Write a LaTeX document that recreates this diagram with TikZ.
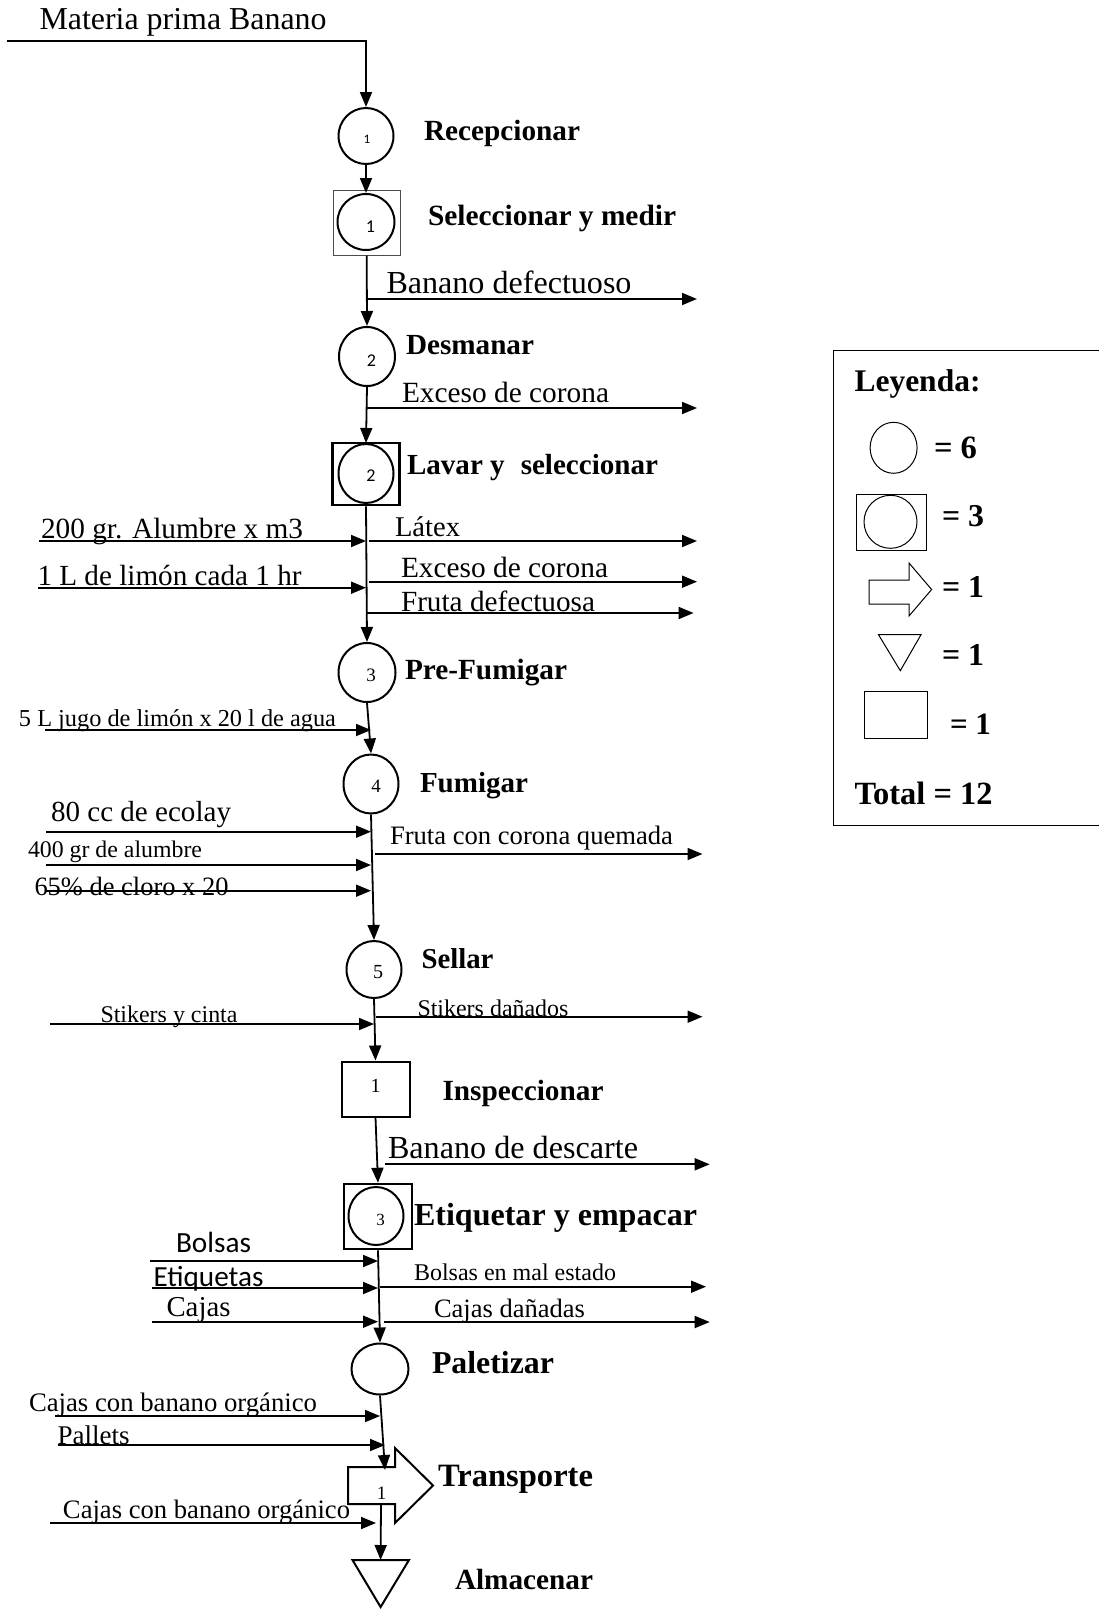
\documentclass[tikz,border=0pt]{standalone}
\usepackage{fontspec}
\usepackage{graphicx}
\setmainfont{Liberation Serif}
\newfontfamily\calibrisub{Carlito}
\usetikzlibrary{arrows.meta,shapes.geometric}
% set a piece of text to a given width (in pt), keeping its proportions
\newcommand{\fitw}[2]{\resizebox{#1pt}{!}{#2}}

\begin{document}
\begin{tikzpicture}[x=1pt,y=-1pt,
  flow/.style={line width=1.8pt,-{Triangle[length=15pt,width=12pt]}},
  op/.style={draw,ellipse,line width=2pt,inner sep=0pt},
  box/.style={draw,rectangle,inner sep=0pt},
  lbl/.style={anchor=base west,inner sep=0pt,outer sep=0pt},
  sansnum/.style={inner sep=0pt,font=\calibrisub\fontsize{18}{18}\selectfont},
  serifnum/.style={inner sep=0pt,font=\fontsize{19}{19}\selectfont},
  leg/.style={line width=1pt}]
\useasboundingbox (0,0) rectangle (1098,1611);

% ---------- process symbols ----------
\node[op,minimum width=55pt,minimum height=56pt] (c1) at (366,136) {};
\node[sansnum,font=\calibrisub\fontsize{13}{13}\selectfont] (n1) at (367,139.5) {1};

\node[box,draw=black!70,line width=1pt,minimum width=67pt,minimum height=65pt] (b1) at (366.7,222.5) {};
\node[op,minimum width=57pt,minimum height=56pt] (b1c) at (366,222) {};
\node[sansnum] (n2) at (370.4,227) {1};

\node[op,minimum width=56pt,minimum height=59pt] (c2) at (367,356.5) {};
\node[sansnum] (n3) at (371.5,361) {2};

\node[box,line width=2.5pt,minimum width=67pt,minimum height=62pt] (b2) at (366,474) {};
\node[op,minimum width=55pt,minimum height=59pt] (b2c) at (366,473.5) {};
\node[sansnum] (n4) at (371,476) {2};

\node[op,minimum width=57pt,minimum height=59pt] (c3) at (367,672.5) {};
\node[serifnum] (n5) at (371,675) {3};

\node[op,minimum width=55pt,minimum height=59pt] (c4) at (371,784) {};
\node[serifnum] (n6) at (376,786) {4};

\node[op,minimum width=55pt,minimum height=57pt] (c5) at (374,969.5) {};
\node[serifnum,font=\fontsize{20}{20}\selectfont] (n7) at (378,972) {5};

\node[box,line width=2pt,minimum width=68pt,minimum height=55pt] (b3) at (375.5,1089) {};
\node[serifnum,font=\fontsize{20}{20}\selectfont] (n8) at (375.6,1086) {1};

\node[box,line width=2.5pt,minimum width=68pt,minimum height=65pt] (b4) at (378,1216.5) {};
\node[op,minimum width=55pt,minimum height=58pt] (b4c) at (376,1216) {};
\node[serifnum,font=\fontsize{17}{17}\selectfont] (n9) at (380.6,1220) {3};

\node[op,minimum width=57pt,minimum height=51pt] (c6) at (380,1369) {};

% transport arrow and storage triangle
\draw[line width=2pt,line join=miter] (348,1467) -- (395,1467) -- (395,1448) -- (433,1485.5)
  -- (395,1523) -- (395,1504) -- (348,1504) -- cycle;
\coordinate (trtop) at (385,1470);
\coordinate (trbot) at (381,1504);
\node[serifnum] (n10) at (381.6,1493) {1};

\draw[line width=2pt,line join=miter] (352.5,1560) -- (409,1560) -- (380.6,1607) -- cycle;
\coordinate (almtop) at (380.6,1560);

% ---------- main flow ----------
\coordinate (mp) at (7,40.7);
\draw[flow] (mp) -- (mp -| c1.north) -- (c1.north);
\draw[flow] (c1.south) -- (b1c.north);
\draw[flow] (b1.south) -- (c2.north);
\draw[flow] (c2.south) -- (b2c.north);
\draw[flow] (b2.south) -- (c3.north);
\draw[flow] (c3.south) -- (c4.north);
\draw[flow] (c4.south) -- (c5.north);
\draw[flow] (c5.south) -- (b3.north);
\draw[flow] (b3.south) -- (b4.north);
\draw[flow] (b4.south) -- (c6.north);
\draw[flow] (c6.south) -- (trtop);
\draw[flow] (trbot) -- (almtop);

% ---------- inputs ----------
\coordinate (i1) at (39,541);
\coordinate (i2) at (37.8,587.7);
\coordinate (i3) at (45,730);
\coordinate (i4) at (46,831.7);
\coordinate (i5) at (46,865);
\coordinate (i6) at (46,890.7);
\coordinate (i7) at (49.6,1024);
\coordinate (i8) at (149.8,1261);
\coordinate (i9) at (152,1288);
\coordinate (i10) at (152,1321.7);
\coordinate (i11) at (55.3,1416);
\coordinate (i12) at (57.6,1445);
\coordinate (i13) at (49.8,1523);
\draw[flow] (i1) -- (i1 -| b2.south);
\draw[flow] (i2) -- (i2 -| b2.south);
\draw[flow] (i3) -- (i3 -| c4.north);
\draw[flow] (i4) -- (i4 -| c4.south);
\draw[flow] (i5) -- (i5 -| c4.south);
\draw[flow] (i6) -- (i6 -| c4.south);
\draw[flow] (i7) -- (i7 -| c5.south);
\draw[flow] (i8) -- (i8 -| b4.south);
\draw[flow] (i9) -- (i9 -| b4.south);
\draw[flow] (i10) -- (i10 -| b4.south);
\draw[flow] (i11) -- (i11 -| c6.south);
\draw[flow] (i12) -- (i12 -| trtop);
\draw[flow] (i13) -- (i13 -| b4c.south);

% ---------- outputs ----------
\coordinate (o1) at (697,299);
\coordinate (o2) at (697,408);
\coordinate (o3) at (697,541);
\coordinate (o4) at (697,581.7);
\coordinate (o5) at (693.6,613);
\coordinate (o6) at (702.5,854);
\coordinate (o7) at (702.5,1016.7);
\coordinate (o8) at (709.7,1164.3);
\coordinate (o9) at (706,1286.7);
\coordinate (o10) at (709.7,1322);
\draw[flow] (o1 -| b1.south) -- (o1);
\draw[flow] (o2 -| c2.south) -- (o2);
\draw[flow] ([xshift=3pt]o3 -| b2.south) -- (o3);
\draw[flow] ([xshift=3pt]o4 -| b2.south) -- (o4);
\draw[flow] (o5 -| b2.south) -- (o5);
\draw[flow] ([xshift=4pt]o6 -| c4.south) -- (o6);
\draw[flow] ([xshift=2pt]o7 -| c5.south) -- (o7);
\draw[flow] ([xshift=9pt]o8 -| b3.south) -- (o8);
\draw[flow] ([xshift=2pt]o9 -| b4.south) -- (o9);
\draw[flow] ([xshift=6pt]o10 -| b4.south) -- (o10);

% ---------- texts ----------
\node[lbl] (t1) at (39.5,30) {\fitw{287}{Materia prima Banano}};
\node[lbl] (t2) at (424,140) {\fitw{156}{\bfseries Recepcionar}};
\node[lbl] (t3) at (428,225) {\fitw{248}{\bfseries Seleccionar y medir}};
\node[lbl] (t4) at (386.5,293) {\fitw{245}{Banano defectuoso}};
\node[lbl] (t5) at (406,354) {\fitw{128}{\bfseries Desmanar}};
\node[lbl] (t6) at (402,402) {\fitw{207}{Exceso de corona}};
\node[lbl] (t7) at (407,474) {\fitw{251}{\bfseries Lavar y\hspace{0.55em}seleccionar}};
\node[lbl] (t8) at (41,538) {\fitw{262}{200 gr. Alumbre x m3}};
\node[lbl] (t9) at (395,536.5) {\fitw{65}{Látex}};
\node[lbl] (t10) at (37.5,585) {\fitw{264}{1 L de limón cada 1 hr}};
\node[lbl] (t11) at (401,577) {\fitw{207}{Exceso de corona}};
\node[lbl] (t12) at (401,611) {\fitw{194}{Fruta defectuosa}};
\node[lbl] (t13) at (405,679) {\fitw{162}{\bfseries Pre-Fumigar}};
\node[lbl] (t14) at (19,726) {\fitw{317}{5 L jugo de limón x 20 l de agua}};
\node[lbl] (t15) at (420,792.5) {\fitw{108}{\bfseries Fumigar}};
\node[lbl] (t16) at (51,821.5) {\fitw{180}{80 cc de ecolay}};
\node[lbl] (t17) at (28,857) {\fitw{174}{400 gr de alumbre}};
\node[lbl] (t18) at (34.5,895) {\fitw{194}{65\% de cloro x 20}};
\node[lbl] (t19) at (390,844) {\fitw{283}{Fruta con corona quemada}};
\node[lbl] (t20) at (421.5,968) {\fitw{72}{\bfseries Sellar}};
\node[lbl] (t21) at (100.5,1022.5) {\fitw{137}{Stikers y cinta}};
\node[lbl] (t22) at (417.5,1016) {\fitw{151}{Stikers dañados}};
\node[lbl] (t23) at (442.5,1100) {\fitw{161}{\bfseries Inspeccionar}};
\node[lbl] (t24) at (388,1158) {\fitw{250}{Banano de descarte}};
\node[lbl] (t25) at (414,1225) {\fitw{283}{\bfseries Etiquetar y empacar}};
\node[lbl] (t26) at (176,1252) {\fitw{75}{\calibrisub Bolsas}};
\node[lbl] (t27) at (153.5,1286.5) {\fitw{110}{\calibrisub Etiquetas}};
\node[lbl] (t28) at (166.5,1316) {\fitw{64}{Cajas}};
\node[lbl] (t29) at (414,1280.5) {\fitw{202}{Bolsas en mal estado}};
\node[lbl] (t30) at (434,1317.5) {\fitw{151}{Cajas dañadas}};
\node[lbl] (t31) at (432,1373) {\fitw{122}{\bfseries Paletizar}};
\node[lbl] (t32) at (29,1411) {\fitw{288}{Cajas con banano orgánico}};
\node[lbl] (t33) at (57.5,1444) {\fitw{72}{Pallets}};
\node[lbl] (t34) at (438,1486.5) {\fitw{155}{\bfseries Transporte}};
\node[lbl] (t35) at (63,1518) {\fitw{287}{Cajas con banano orgánico}};
\node[lbl] (t36) at (455,1589) {\fitw{138}{\bfseries Almacenar}};

% ---------- legend ----------
\draw[leg] (1100,350) -- (833,350) -- (833,825) -- (1100,825);
\node[lbl] (l1) at (854.5,391) {\fitw{126}{\bfseries Leyenda:}};
\node[draw,ellipse,leg,inner sep=0pt,minimum width=47pt,minimum height=51pt] (lc) at (893.6,447.8) {};
\node[lbl] (l2) at (934,458) {\fitw{43}{\bfseries = 6}};
\node[box,leg,minimum width=70pt,minimum height=56pt] (lb) at (891.7,522) {};
\node[draw,ellipse,leg,inner sep=0pt,minimum width=53pt,minimum height=53pt] (lbc) at (890.5,521.8) {};
\node[lbl] (l3) at (942,526) {\fitw{42}{\bfseries = 3}};
\draw[leg] (869,580) -- (909,580) -- (909,563) -- (931.6,589.5) -- (909,616) -- (909,604) -- (869,604) -- cycle;
\node[lbl] (l4) at (942,597) {\fitw{42}{\bfseries = 1}};
\draw[leg] (878.5,634.7) -- (921,634.7) -- (900.3,670.7) -- cycle;
\node[lbl] (l5) at (942,665) {\fitw{42}{\bfseries = 1}};
\node[box,leg,minimum width=62.7pt,minimum height=47.5pt] (ls) at (896.2,714.8) {};
\node[lbl] (l6) at (950,734) {\fitw{41}{\bfseries = 1}};
\node[lbl] (l7) at (854.5,804) {\fitw{138}{\bfseries Total = 12}};
\end{tikzpicture}
\end{document}
